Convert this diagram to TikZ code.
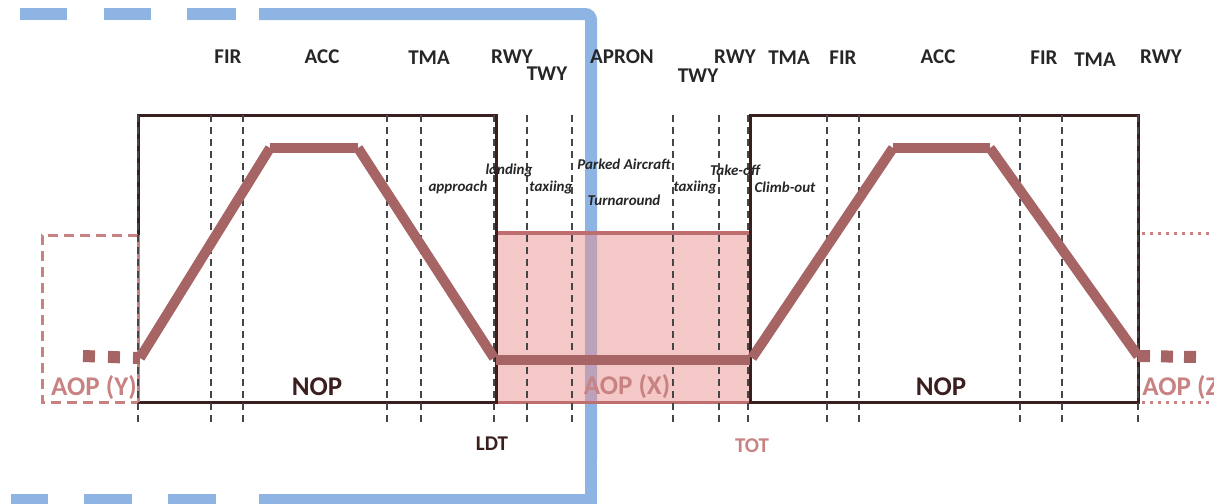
\documentclass[tikz,border=0pt]{standalone}
\usepackage{fontspec}
\setmainfont{Carlito}
\definecolor{nopdark}{RGB}{59,31,31}
\definecolor{pathred}{RGB}{166,100,100}
\definecolor{aoppink}{RGB}{200,130,130}
\definecolor{aopfill}{RGB}{235,145,145}
\definecolor{aopedge}{RGB}{190,110,110}
\definecolor{airblue}{RGB}{141,180,226}
\definecolor{sectorgray}{RGB}{70,70,70}
\begin{document}
\begin{tikzpicture}[x=0.5pt, y=-0.5pt,
   zonelabel/.style={font=\bfseries\fontsize{10.5}{12}\selectfont, text=black!85},
   phaselabel/.style={font=\bfseries\itshape\fontsize{7.5}{9}\selectfont, text=black!85},
   oplabel/.style={font=\bfseries\fontsize{13.5}{15}\selectfont},
   sectorline/.style={draw=sectorgray, line width=0.65pt, dash pattern=on 3.5pt off 2.5pt},
   flightpath/.style={draw=pathred, line width=5pt},
   airside/.style={draw=airblue, line width=6pt},
   nopbox/.style={draw=nopdark, line width=1.5pt}]
   \useasboundingbox (0,0) rectangle (1214,503);
   \clip (0,0) rectangle (1214,503);

   % airport boundary
   \foreach \a/\b in {20/67, 104/151, 187/236} {
      \draw[airside] (\a,14) -- (\b,14);
   }
   \draw[airside, rounded corners=3pt] (259,14) -- (591,14) -- (591,460);
   \draw[airside, line join=miter] (591,440) -- (591,500) -- (259,500);
   \foreach \a/\b in {11/48, 84/132, 168/216} {
      \draw[airside] (\a,500) -- (\b,500);
   }

   % AOP (X) on the ground
   \fill[aopfill, opacity=0.5] (496,233) rectangle (750,402);
   \draw[aopedge, line width=2pt] (496,233) -- (750,233);
   \draw[aopedge, line width=1.5pt] (496,402) -- (750,402);

   % NOP boxes
   \draw[nopbox] (138,115) rectangle (496,402);
   \draw[nopbox] (750,115) rectangle (1138,402);

   % neighbouring AOPs
   \draw[aoppink, line width=1.5pt, dash pattern=on 5pt off 3pt] (138,235) -- (42,235) -- (42,402) -- (138,402);
   \draw[aoppink, line width=1.5pt] (138,235) -- (138,402);
   \draw[aoppink, line width=1.5pt, dash pattern=on 1.5pt off 2.5pt] (1142,233) -- (1214,233);
   \draw[aoppink, line width=1.5pt, dash pattern=on 1.5pt off 2.5pt] (1142,402) -- (1214,402);

   % sector limits
   \foreach \x in {138,211,243,387,421,494,527,572,673,719,748,827,859,1020,1062,1138} {
      \draw[sectorline] (\x,115) -- (\x,422);
   }

   % flight profile
   \coordinate (y1) at (140,358);
   \coordinate (y2) at (270,148);
   \coordinate (y3) at (358,148);
   \coordinate (y4) at (494,358);
   \coordinate (x1) at (496,360);
   \coordinate (x2) at (750,360);
   \coordinate (z1) at (752,358);
   \coordinate (z2) at (893,148);
   \coordinate (z3) at (990,148);
   \coordinate (z4) at (1138,356);
   \draw[flightpath] (y1) -- (y2);
   \draw[flightpath] (y2) -- (y3);
   \draw[flightpath] (y3) -- (y4);
   \draw[flightpath] (x1) -- (x2);
   \draw[flightpath] (z1) -- (z2);
   \draw[flightpath] (z2) -- (z3);
   \draw[flightpath] (z3) -- (z4);
   \coordinate (yin) at (83,356);
   \coordinate (zout) at (1198,357);
   \draw[pathred, line width=6pt, dash pattern=on 6pt off 6.5pt] (yin) -- (y1);
   \draw[pathred, line width=6pt, dash pattern=on 6pt off 5.5pt] (z4) -- (zout);

   % zones
   \foreach \t/\x/\y [count=\i] in {FIR/228/57, ACC/322/57, TMA/429/58, RWY/512/57, TWY/547/74,
         APRON/622/57, TWY/698/76, RWY/735/57, TMA/789/58, FIR/843/58, ACC/938/57,
         FIR/1044/58, TMA/1095/60, RWY/1161/57} {
      \node[zonelabel] (zone\i) at (\x,\y) {\t};
   }

   % phases
   \foreach \t/\x/\y [count=\i] in {approach/458/187, landing/509/170, taxiing/551/187,
         Parked Aircraft/624/164, Turnaround/624/200, taxiing/695/187,
         Take-off/735/170, Climb-out/785/187} {
      \node[phaselabel] (phase\i) at (\x,\y) {\t};
   }

   \node[oplabel, text=nopdark] (nopA) at (317,387) {NOP};
   \node[oplabel, text=nopdark] (nopB) at (941,387) {NOP};
   \node[oplabel, text=aoppink] (aopY) at (94,388) {AOP (Y)};
   \node[oplabel, text=aoppink] (aopX) at (627,387) {AOP (X)};
   \node[oplabel, text=aoppink, anchor=west, inner sep=0pt] (aopZ) at (1142,388) {AOP (Z)};
   \node[zonelabel, text=nopdark] (ldt) at (492,444) {LDT};
   \node[zonelabel, text=aoppink] (tot) at (752,446) {TOT};
\end{tikzpicture}
\end{document}
